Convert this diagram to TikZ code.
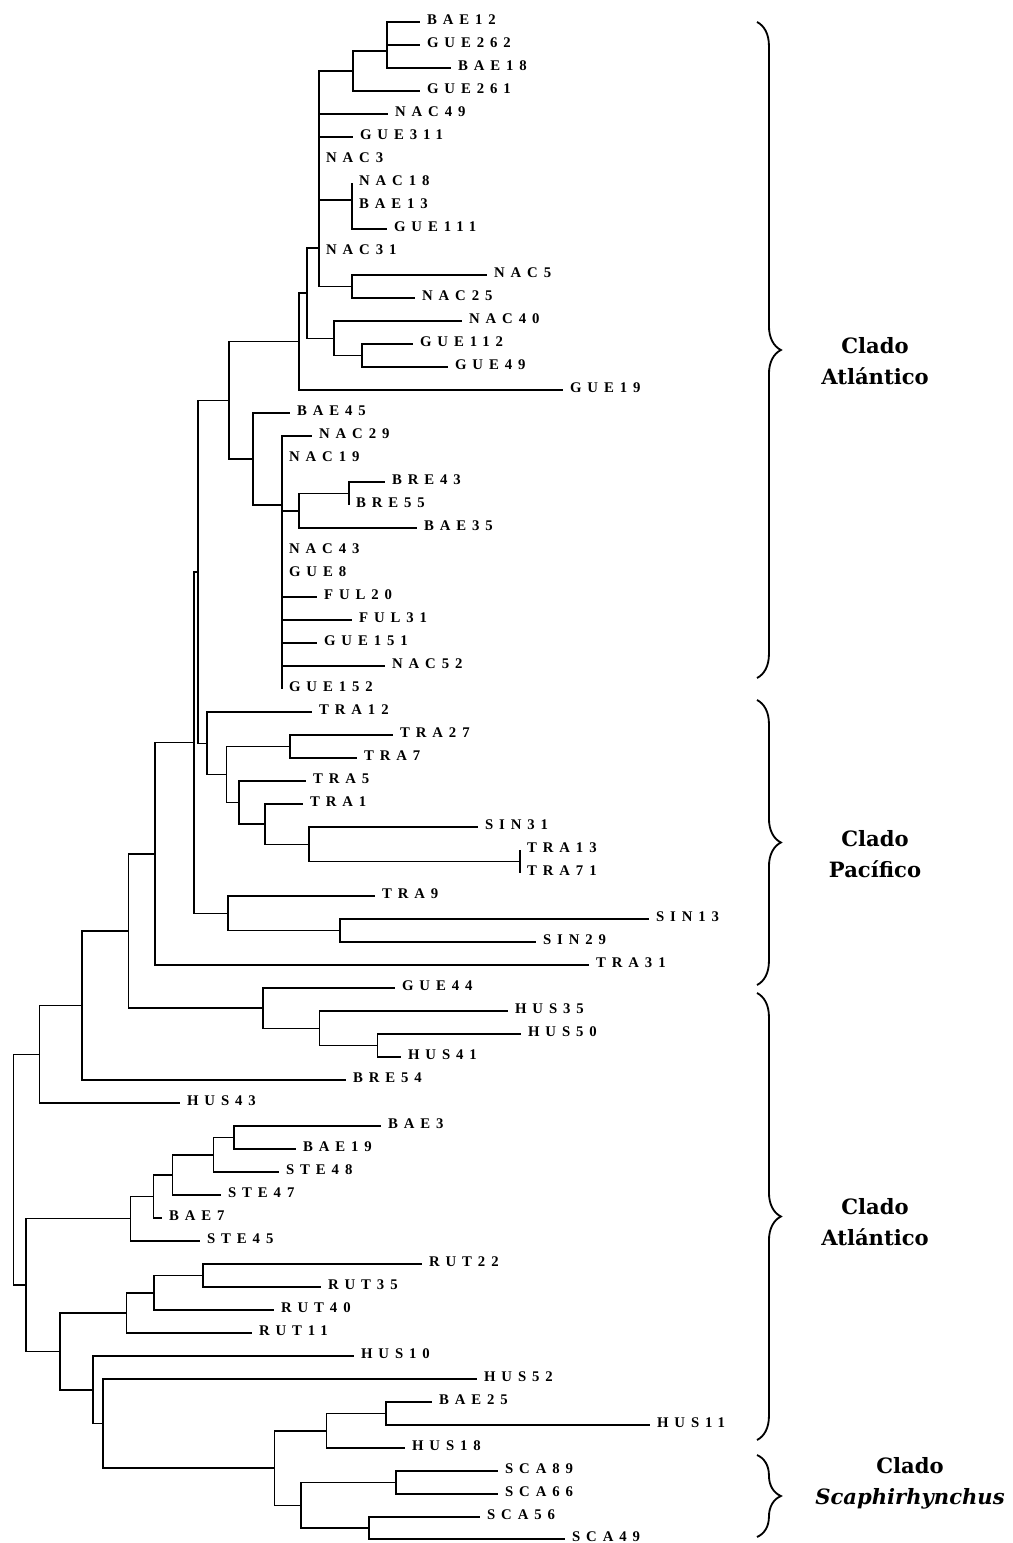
\documentclass[tikz,border=0pt]{standalone}
\usepackage{fontspec}
\setmainfont{Liberation Serif}
\newfontfamily\leaffont[LetterSpace=40]{Liberation Serif}
\newfontfamily\cladefont{DejaVu Serif}
\usetikzlibrary{decorations.pathreplacing}

\begin{document}
\begin{tikzpicture}[x=0.025cm,y=-0.025cm,line width=1.1pt,
    leaf/.style={anchor=west,inner xsep=4.5pt,inner ysep=0pt,text height=7pt,text depth=3.8pt,
                 font=\leaffont\bfseries\fontsize{10.5}{12}\selectfont},
    clado/.style={align=center,font=\cladefont\bfseries\fontsize{15}{22}\selectfont},
    llave/.style={decorate,decoration={brace,amplitude=17pt},line width=1.3pt}]
\useasboundingbox (0,0) rectangle (1012,1543);

% Clado Atlantico (arriba)
\node [leaf] (bae12) at (420,22) {BAE12};
\node [leaf] (gue262) at (420,45) {GUE262};
\node [leaf] (bae18) at (451,68) {BAE18};
\node [leaf] (gue261) at (420,91) {GUE261};
\node [leaf] (nac49) at (388,114) {NAC49};
\node [leaf] (gue311) at (353,137) {GUE311};
\node [leaf] (nac3) at (319,160) {NAC3};
\node [leaf] (nac18) at (352,183) {NAC18};
\node [leaf] (bae13) at (352,206) {BAE13};
\node [leaf] (gue111) at (387,229) {GUE111};
\node [leaf] (nac31) at (319,252) {NAC31};
\node [leaf] (nac5) at (487,275) {NAC5};
\node [leaf] (nac25) at (415,298) {NAC25};
\node [leaf] (nac40) at (462,321) {NAC40};
\node [leaf] (gue112) at (413,344) {GUE112};
\node [leaf] (gue49) at (448,367) {GUE49};
\node [leaf] (gue19) at (563,390) {GUE19};
\node [leaf] (bae45) at (290,413) {BAE45};
\node [leaf] (nac29) at (312,436) {NAC29};
\node [leaf] (nac19) at (282,459) {NAC19};
\node [leaf] (bre43) at (385,482) {BRE43};
\node [leaf] (bre55) at (349,505) {BRE55};
\node [leaf] (bae35) at (417,528) {BAE35};
\node [leaf] (nac43) at (282,551) {NAC43};
\node [leaf] (gue8) at (282,574) {GUE8};
\node [leaf] (ful20) at (317,597) {FUL20};
\node [leaf] (ful31) at (352,620) {FUL31};
\node [leaf] (gue151) at (317,643) {GUE151};
\node [leaf] (nac52) at (385,666) {NAC52};
\node [leaf] (gue152) at (282,689) {GUE152};
% Clado Pacifico
\node [leaf] (tra12) at (312,712) {TRA12};
\node [leaf] (tra27) at (393,735) {TRA27};
\node [leaf] (tra7) at (357,758) {TRA7};
\node [leaf] (tra5) at (306,781) {TRA5};
\node [leaf] (tra1) at (303,804) {TRA1};
\node [leaf] (sin31) at (478,827) {SIN31};
\node [leaf] (tra13) at (520,850) {TRA13};
\node [leaf] (tra71) at (520,873) {TRA71};
\node [leaf] (tra9) at (375,896) {TRA9};
\node [leaf] (sin13) at (649,919) {SIN13};
\node [leaf] (sin29) at (536,942) {SIN29};
\node [leaf] (tra31) at (589,965) {TRA31};
% Clado Atlantico (abajo)
\node [leaf] (gue44) at (395,988) {GUE44};
\node [leaf] (hus35) at (508,1011) {HUS35};
\node [leaf] (hus50) at (521,1034) {HUS50};
\node [leaf] (hus41) at (401,1057) {HUS41};
\node [leaf] (bre54) at (346,1080) {BRE54};
\node [leaf] (hus43) at (180,1103) {HUS43};
\node [leaf] (bae3) at (381,1126) {BAE3};
\node [leaf] (bae19) at (296,1149) {BAE19};
\node [leaf] (ste48) at (279,1172) {STE48};
\node [leaf] (ste47) at (221,1195) {STE47};
\node [leaf] (bae7) at (162,1218) {BAE7};
\node [leaf] (ste45) at (200,1241) {STE45};
\node [leaf] (rut22) at (422,1264) {RUT22};
\node [leaf] (rut35) at (321,1287) {RUT35};
\node [leaf] (rut40) at (274,1310) {RUT40};
\node [leaf] (rut11) at (252,1333) {RUT11};
\node [leaf] (hus10) at (354,1356) {HUS10};
\node [leaf] (hus52) at (477,1379) {HUS52};
\node [leaf] (bae25) at (432,1402) {BAE25};
\node [leaf] (hus11) at (650,1425) {HUS11};
\node [leaf] (hus18) at (405,1448) {HUS18};
% Clado Scaphirhynchus
\node [leaf] (sca89) at (498,1471) {SCA89};
\node [leaf] (sca66) at (498,1494) {SCA66};
\node [leaf] (sca56) at (480,1517) {SCA56};
\node [leaf] (sca49) at (565,1539) {SCA49};

% nodos internos
\coordinate (a1) at (387,33.5);
\coordinate (a2) at (387,50.8);
\coordinate (a3) at (353,70.9);
\coordinate (c1) at (352,200);
\coordinate (d1) at (352,286.5);
\coordinate (b1) at (319,248);
\coordinate (f1) at (362,355.5);
\coordinate (e1) at (334,338.3);
\coordinate (g1) at (307,293.1);
\coordinate (g2) at (299,341.6);
\coordinate (h1) at (349,493.5);
\coordinate (h2) at (299,510.8);
\coordinate (h3) at (282,505);
\coordinate (h4) at (253,459);
\coordinate (k1) at (229,400.3);
\coordinate (p1) at (290,746.5);
\coordinate (p2) at (520,861.5);
\coordinate (p3) at (309,844.3);
\coordinate (p4) at (265,824.1);
\coordinate (p5) at (239,802.6);
\coordinate (p6) at (226.5,774.5);
\coordinate (p7) at (207,743.3);
\coordinate (q1) at (198,571.8);
\coordinate (p8) at (340,930.5);
\coordinate (p9) at (228,913.3);
\coordinate (q2) at (194,742.5);
\coordinate (q3) at (155,853.8);
\coordinate (u1) at (377.5,1045.5);
\coordinate (u2) at (319.4,1028.3);
\coordinate (u3) at (263,1008.1);
\coordinate (q4) at (128.6,930.9);
\coordinate (q5) at (82.2,1005.5);
\coordinate (q6) at (39.5,1054.3);
\coordinate (l1) at (234,1137.5);
\coordinate (l2) at (213.4,1154.8);
\coordinate (l3) at (172.7,1174.9);
\coordinate (l4) at (153.4,1196.4);
\coordinate (l5) at (130.4,1218.7);
\coordinate (r1) at (202.8,1275.5);
\coordinate (r2) at (153.8,1292.8);
\coordinate (r3) at (126.4,1312.9);
\coordinate (s1) at (385.8,1413.5);
\coordinate (s2) at (326.4,1430.8);
\coordinate (s3) at (396.2,1482.5);
\coordinate (s4) at (369,1528);
\coordinate (s5) at (301,1505.3);
\coordinate (s6) at (274.5,1468);
\coordinate (s7) at (102.8,1423.5);
\coordinate (s8) at (92.9,1389.8);
\coordinate (r4) at (60,1351.4);
\coordinate (x1) at (26,1285);
\coordinate (root) at (13.5,1169.6);

% ramas
\draw (a1) |- (bae12.west) (a1) |- (gue262.west);
\draw (a2) |- (a1) (a2) |- (bae18.west);
\draw (a3) |- (a2) (a3) |- (gue261.west);
\draw (c1) |- (nac18.west) (c1) |- (bae13.west) (c1) |- (gue111.west);
\draw (d1) |- (nac5.west) (d1) |- (nac25.west);
\draw (b1) |- (a3) (b1) |- (nac49.west) (b1) |- (gue311.west) (b1) |- (nac3.west)
      (b1) |- (c1) (b1) |- (nac31.west) (b1) |- (d1);
\draw (f1) |- (gue112.west) (f1) |- (gue49.west);
\draw (e1) |- (nac40.west) (e1) |- (f1);
\draw (g1) |- (b1) (g1) |- (e1);
\draw (g2) |- (g1) (g2) |- (gue19.west);
\draw (h1) |- (bre43.west) (h1) |- (bre55.west);
\draw (h2) |- (h1) (h2) |- (bae35.west);
\draw (h3) |- (nac29.west) (h3) |- (nac19.west) (h3) |- (h2) (h3) |- (nac43.west)
      (h3) |- (gue8.west) (h3) |- (ful20.west) (h3) |- (ful31.west)
      (h3) |- (gue151.west) (h3) |- (nac52.west) (h3) |- (gue152.west);
\draw (h4) |- (bae45.west) (h4) |- (h3);
\draw (k1) |- (g2) (k1) |- (h4);
\draw (p1) |- (tra27.west) (p1) |- (tra7.west);
\draw (p2) |- (tra13.west) (p2) |- (tra71.west);
\draw (p3) |- (sin31.west) (p3) |- (p2);
\draw (p4) |- (tra1.west) (p4) |- (p3);
\draw (p5) |- (tra5.west) (p5) |- (p4);
\draw (p6) |- (p1) (p6) |- (p5);
\draw (p7) |- (tra12.west) (p7) |- (p6);
\draw (q1) |- (k1) (q1) |- (p7);
\draw (p8) |- (sin13.west) (p8) |- (sin29.west);
\draw (p9) |- (tra9.west) (p9) |- (p8);
\draw (q2) |- (q1) (q2) |- (p9);
\draw (q3) |- (q2) (q3) |- (tra31.west);
\draw (u1) |- (hus50.west) (u1) |- (hus41.west);
\draw (u2) |- (hus35.west) (u2) |- (u1);
\draw (u3) |- (gue44.west) (u3) |- (u2);
\draw (q4) |- (q3) (q4) |- (u3);
\draw (q5) |- (q4) (q5) |- (bre54.west);
\draw (q6) |- (q5) (q6) |- (hus43.west);
\draw (l1) |- (bae3.west) (l1) |- (bae19.west);
\draw (l2) |- (l1) (l2) |- (ste48.west);
\draw (l3) |- (l2) (l3) |- (ste47.west);
\draw (l4) |- (l3) (l4) |- (bae7.west);
\draw (l5) |- (l4) (l5) |- (ste45.west);
\draw (r1) |- (rut22.west) (r1) |- (rut35.west);
\draw (r2) |- (r1) (r2) |- (rut40.west);
\draw (r3) |- (r2) (r3) |- (rut11.west);
\draw (s1) |- (bae25.west) (s1) |- (hus11.west);
\draw (s2) |- (s1) (s2) |- (hus18.west);
\draw (s3) |- (sca89.west) (s3) |- (sca66.west);
\draw (s4) |- (sca56.west) (s4) |- (sca49.west);
\draw (s5) |- (s3) (s5) |- (s4);
\draw (s6) |- (s2) (s6) |- (s5);
\draw (s7) |- (hus52.west) (s7) |- (s6);
\draw (s8) |- (hus10.west) (s8) |- (s7);
\draw (r4) |- (r3) (r4) |- (s8);
\draw (x1) |- (l5) (x1) |- (r4);
\draw (root) |- (q6) (root) |- (x1);

% llaves y clados
\draw [llave] (757,22) -- (757,678);
\draw [llave] (757,700) -- (757,985);
\draw [llave] (757,993) -- (757,1440);
\draw [llave] (757,1455) -- (757,1537);
\node [clado] (cat1) at (875,361) {Clado\\Atlántico};
\node [clado] (cpa) at (875,854) {Clado\\Pacífico};
\node [clado] (cat2) at (875,1222) {Clado\\Atlántico};
\node [clado] (csc) at (910,1483) {Clado\\\textit{Scaphirhynchus}};
\end{tikzpicture}
\end{document}
